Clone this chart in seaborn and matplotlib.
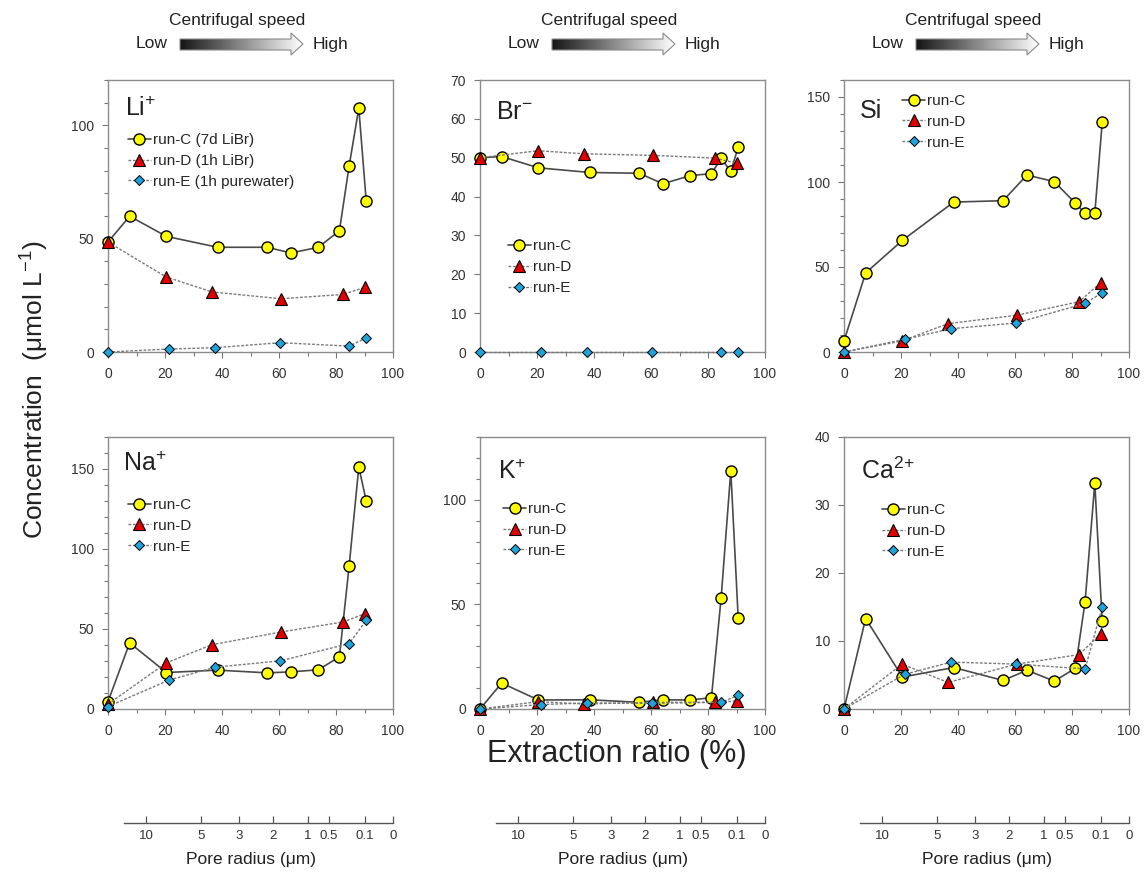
import numpy as np
import matplotlib
matplotlib.use("Agg")
import matplotlib.pyplot as plt
import seaborn as sns
from matplotlib.patches import Polygon
from matplotlib.ticker import MultipleLocator

# Extraction ratio (%) of each step
x_c = [0, 7.6, 20.5, 38.5, 55.8, 64.2, 73.8, 81.2, 84.6, 88.0, 90.6]
x_d = [0, 20.4, 36.5, 60.6, 82.5, 90.1]
x_e = [0, 21.3, 37.6, 60.5, 84.6, 90.6]

# Concentrations (umol/L)
li_c = [48.5, 59.9, 51.0, 46.2, 46.2, 43.7, 46.2, 53.5, 82.0, 107.6, 66.6]
li_d = [48.5, 33.1, 26.5, 23.5, 25.4, 28.5]
li_e = [0, 1.3, 1.9, 4.1, 2.6, 6.2]

br_c = [50.0, 50.3, 47.4, 46.2, 46.0, 43.3, 45.4, 45.9, 49.8, 46.5, 52.7]
br_d = [50.0, 51.8, 51.0, 50.6, 49.9, 48.6]
br_e = [0, 0, 0, 0, 0, 0]

si_c = [6.5, 46.5, 65.7, 88.2, 89.0, 104.1, 100.2, 87.5, 81.6, 81.6, 135.1]
si_d = [0, 6.5, 16.7, 21.6, 29.6, 40.8]
si_e = [0, 7.5, 13.7, 17.1, 28.6, 34.9]

na_c = [4.6, 41.3, 22.8, 24.3, 22.6, 23.2, 24.5, 32.6, 89.2, 151.2, 130.1]
na_d = [3.0, 28.8, 40.2, 48.1, 54.4, 59.5]
na_e = [1.5, 18.0, 26.1, 30.1, 40.9, 55.4]

k_c = [0, 12.4, 4.3, 4.4, 3.2, 4.4, 4.3, 5.4, 52.9, 113.8, 43.3]
k_d = [0, 3.5, 2.4, 3.2, 3.2, 3.8]
k_e = [0, 2.1, 2.9, 2.7, 3.2, 6.5]

ca_c = [0, 13.3, 4.7, 6.1, 4.2, 5.7, 4.1, 6.0, 15.8, 33.2, 12.9]
ca_d = [0, 6.6, 3.9, 6.6, 8.0, 11.1]
ca_e = [0, 5.1, 6.9, 6.6, 5.9, 15.0]

labels_long = ["run-C (7d LiBr)", "run-D (1h LiBr)", "run-E (1h purewater)"]
labels_short = ["run-C", "run-D", "run-E"]

# pore radius scale under each column
pore_labels = ["10", "5", "3", "2", "1", "0.5", "0.1", "0"]
pore_pos = [13.5, 32.8, 46.0, 57.8, 70.0, 77.4, 90.0, 100.0]

sns.set_theme(style="white")
plt.rcParams["font.family"] = ["Liberation Sans", "DejaVu Sans"]
plt.rcParams["mathtext.fontset"] = "custom"
plt.rcParams["mathtext.rm"] = "Liberation Sans"
plt.rcParams["mathtext.it"] = "Liberation Sans:italic"
plt.rcParams["mathtext.bf"] = "Liberation Sans:bold"

W, H = 1146, 873
fig = plt.figure(figsize=(W / 100, H / 100), dpi=100)

lefts = [108, 480, 844]
bottoms = [352, 709]
pw, ph = 285, 272

# title, C, D, E, ymax, major, minor, legend labels, legend anchor, title pos
panels = [
    ("Li$^{+}$", li_c, li_d, li_e, 120, 50, 10, labels_long, (0.07, 0.805), (0.06, 0.94)),
    ("Br$^{-}$", br_c, br_d, br_e, 70, 10, None, labels_short, (0.098, 0.415), (0.056, 0.925)),
    ("Si", si_c, si_d, si_e, 160, 50, 10, labels_short, (0.204, 0.949), (0.056, 0.93)),
    ("Na$^{+}$", na_c, na_d, na_e, 170, 50, 10, labels_short, (0.07, 0.776), (0.053, 0.945)),
    ("K$^{+}$", k_c, k_d, k_e, 130, 50, 10, labels_short, (0.081, 0.761), (0.063, 0.915)),
    ("Ca$^{2\\!+}$", ca_c, ca_d, ca_e, 40, 10, None, labels_short, (0.133, 0.757), (0.06, 0.925)),
]

for i, (title, c, d, e, ymax, major, minor, labs, leg_pos, tpos) in enumerate(panels):
    left = lefts[i % 3]
    bottom = bottoms[i // 3]
    ax = fig.add_axes([left / W, 1 - bottom / H, pw / W, ph / H])

    sns.lineplot(x=x_c, y=c, ax=ax, estimator=None, sort=False, color="#4a4a4a",
                 linewidth=1.2, linestyle="-", marker="o", markersize=8,
                 markerfacecolor="#ffff00", markeredgecolor="black", markeredgewidth=1.0,
                 label=labs[0], clip_on=False, zorder=3)
    sns.lineplot(x=x_d, y=d, ax=ax, estimator=None, sort=False, color="#7a7a7a",
                 linewidth=1.0, linestyle=(0, (2, 1.2)), marker="^", markersize=8,
                 markerfacecolor="#e00000", markeredgecolor="black", markeredgewidth=0.8,
                 label=labs[1], clip_on=False, zorder=4)
    sns.lineplot(x=x_e, y=e, ax=ax, estimator=None, sort=False, color="#7a7a7a",
                 linewidth=1.0, linestyle=(0, (2, 1.2)), marker="D", markersize=5.5,
                 markerfacecolor="#1fa3dc", markeredgecolor="black", markeredgewidth=0.7,
                 label=labs[2], clip_on=False, zorder=5)

    ax.set_xlim(0, 100)
    ax.set_ylim(0, ymax)
    ax.xaxis.set_major_locator(MultipleLocator(20))
    ax.xaxis.set_minor_locator(MultipleLocator(10))
    ax.yaxis.set_major_locator(MultipleLocator(major))
    if minor:
        ax.yaxis.set_minor_locator(MultipleLocator(minor))
    ax.set_xlabel("")
    ax.set_ylabel("")
    ax.tick_params(which="both", direction="out", color="#777777", width=0.8,
                   bottom=True, left=True, top=False, right=False,
                   labelsize=10, labelcolor="#333333")
    ax.tick_params(which="major", length=4)
    ax.tick_params(which="minor", length=3)
    ax.tick_params(axis="x", pad=7)
    ax.tick_params(axis="y", pad=6)
    for s in ax.spines.values():
        s.set_visible(True)
        s.set_color("#8c8c8c")
        s.set_linewidth(1.0)

    ax.text(tpos[0], tpos[1], title, transform=ax.transAxes, fontsize=18,
            ha="left", va="top", color="#222222")
    ax.legend(loc="upper left", bbox_to_anchor=leg_pos, frameon=False, fontsize=11,
              handlelength=1.5, handletextpad=0.15, labelspacing=0.45,
              borderaxespad=0, borderpad=0)

# pore radius axes
for left in lefts:
    pax = fig.add_axes([left / W, 1 - 823 / H, pw / W, 0.0001])
    pax.patch.set_visible(False)
    pax.set_xlim(0, 100)
    pax.set_yticks([])
    for s in ["top", "left", "right"]:
        pax.spines[s].set_visible(False)
    pax.spines["bottom"].set_bounds(5.5, 100)
    pax.spines["bottom"].set_color("#555555")
    pax.spines["bottom"].set_linewidth(1.0)
    pax.set_xticks(pore_pos, pore_labels)
    pax.tick_params(axis="x", direction="in", length=5, width=0.9, color="#555555",
                    pad=5, labelsize=9.5, labelcolor="#333333", bottom=True)
    pax.set_xlabel("Pore radius (μm)", fontsize=12.5, labelpad=7, color="#222222")

# centrifugal speed arrows
ov = fig.add_axes([0, 0, 1, 1])
ov.axis("off")
grad = np.linspace(0.08, 1.0, 256).reshape(1, -1)
for left in lefts:
    x0 = left + 72
    x1 = x0 + 111
    x2 = x0 + 123
    pts = [(x0, 39), (x1, 39), (x1, 33), (x2, 44), (x1, 55), (x1, 50), (x0, 50)]
    poly = Polygon(pts, closed=True, facecolor="none", edgecolor="#8a8a8a", lw=0.8, zorder=3)
    ov.add_patch(poly)
    im = ov.imshow(grad, cmap="gray", extent=(x0, x2, 55, 33), aspect="auto",
                   vmin=0, vmax=1, zorder=2)
    im.set_clip_path(poly)
    ov.text(x0 + 57, 21, "Centrifugal speed", ha="center", va="center", fontsize=12.5,
            color="#222222")
    ov.text(x0 - 28, 44, "Low", ha="center", va="center", fontsize=12.5, color="#222222")
    ov.text(x0 + 150, 44, "High", ha="center", va="center", fontsize=12.5, color="#222222")
ov.set_xlim(0, W)
ov.set_ylim(H, 0)

fig.text(35 / W, 1 - 390 / H, "Concentration  (μmol L$^{-1}$)", rotation=90,
         ha="center", va="center", fontsize=19, color="#222222")
fig.text(617 / W, 1 - 754 / H, "Extraction ratio (%)", ha="center", va="center",
         fontsize=22, color="#222222")

fig.savefig("out.png", dpi=100)
